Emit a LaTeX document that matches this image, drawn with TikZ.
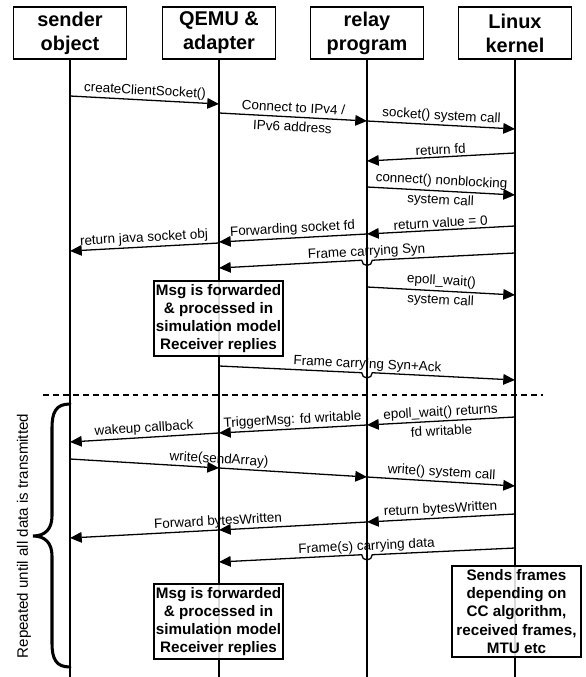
\documentclass[tikz,border=0pt]{standalone}
\usepackage{fontspec}
\setmainfont{Liberation Sans}
\usetikzlibrary{arrows.meta,calc}
\begin{document}
\begin{tikzpicture}[x=0.03cm, y=-0.03cm,
head/.style={draw, line width=1.5pt, minimum width=3.39cm, minimum height=1.56cm, inner sep=0pt, align=center, font=\bfseries\fontsize{17}{20.4}\selectfont},
life/.style={line width=1.5pt},
msg/.style={line width=1.1pt, -{Triangle[length=10pt, width=9pt]}},
lbl/.style={inner sep=1.5pt, align=center, font=\fontsize{11.5}{14}\selectfont},
twolbl/.style={inner sep=1.5pt, align=center, font=\fontsize{11.5}{16.5}\selectfont},
note/.style={draw, line width=0.9pt, fill=white, fill opacity=0.85, text opacity=1, inner sep=0pt, align=center, minimum width=3.87cm, font=\bfseries\fontsize{13}{15.6}\selectfont},
sep/.style={line width=1pt, dash pattern=on 5pt off 3.5pt},
bracket/.style={line width=2.6pt, line cap=round}]
\useasboundingbox (0,0) rectangle (585,677);
\node[head] (sender) at (70,33) {sender\\object};
\node[head] (qemu) at (219,33) {QEMU \&\\adapter};
\node[head] (relay) at (367,33) {relay\\program};
\node[head] (kernel) at (515,33) {Linux\\kernel};
\coordinate (senderend) at (70,677);
\coordinate (qemuend) at (219,677);
\coordinate (relayend) at (367,677);
\coordinate (kernelend) at (515,677);
\draw[life] (sender) -- (senderend);
\draw[life] (qemu) -- (qemuend);
\draw[life] (relay) -- (relayend);
\draw[life] (kernel) -- (kernelend);
\draw[msg] (sender |- 0,96) -- (qemu |- 0,104) node[lbl, midway, above, sloped] {createClientSocket()};
\draw[msg] (qemu |- 0,113) -- (relay |- 0,121) node[twolbl, midway, sloped] {Connect to IPv4 /\\IPv6 address};
\draw[msg] (relay |- 0,121) -- (kernel |- 0,129) node[lbl, midway, above, sloped] {socket() system call};
\draw[msg] (kernel |- 0,153) -- (relay |- 0,161) node[lbl, midway, above, sloped] {return fd};
\draw[msg] (relay |- 0,187) -- (kernel |- 0,195) node[twolbl, midway, sloped] {connect() nonblocking\\system call};
\draw[msg] (kernel |- 0,226) -- (relay |- 0,234) node[lbl, midway, above, sloped] {return value = 0};
\draw[msg] (relay |- 0,234) -- (qemu |- 0,242) node[lbl, midway, above, sloped] {Forwarding socket fd};
\draw[msg] (qemu |- 0,243) -- (sender |- 0,251) node[lbl, midway, above, sloped] {return java socket obj};
\coordinate (syn1) at (kernel |- 0,253);
\coordinate (syn2) at (qemu |- 0,268);
\coordinate (synj) at (intersection of syn1--syn2 and relay--relayend);
\draw[msg] (syn1) -- ($(synj)!4.5pt!(syn1)$) arc[start angle=0, end angle=-180, radius=4.5pt] -- (syn2);
\path (syn1) -- (syn2) node[lbl, midway, above, sloped] {Frame carrying Syn};
\draw[msg] (relay |- 0,287) -- (kernel |- 0,295) node[twolbl, midway, sloped] {epoll\_wait()\\system call};
\node[note, minimum height=2.25cm] (fwd1) at (218.5,318.5) {Msg is forwarded\\\& processed in\\simulation model\\Receiver replies};
\coordinate (ack1) at (qemu |- 0,366);
\coordinate (ack2) at (kernel |- 0,380);
\coordinate (ackj) at (intersection of ack1--ack2 and relay--relayend);
\draw[msg] (ack1) -- ($(ackj)!4.5pt!(ack1)$) arc[start angle=180, end angle=360, radius=4.5pt] -- (ack2);
\path (ack1) -- (ack2) node[lbl, midway, above, sloped] {Frame carrying Syn+Ack};
\draw[sep] (43,395) -- (543,395);
\draw[msg] (kernel |- 0,417) -- (relay |- 0,425) node[twolbl, midway, sloped] {epoll\_wait() returns\\fd writable};
\draw[msg] (relay |- 0,425) -- (qemu |- 0,433) node[lbl, midway, above, sloped] {TriggerMsg: fd writable};
\draw[msg] (qemu |- 0,433) -- (sender |- 0,442) node[lbl, midway, above, sloped] {wakeup callback};
\draw[msg] (sender |- 0,459) -- (qemu |- 0,468);
\draw[msg] (qemu |- 0,468) -- (relay |- 0,477);
\path (sender |- 0,459) -- (relay |- 0,477) node[lbl, midway, above, sloped] {write(sendArray)};
\draw[msg] (relay |- 0,477) -- (kernel |- 0,486) node[lbl, midway, above, sloped] {write() system call};
\draw[msg] (kernel |- 0,514) -- (relay |- 0,522) node[lbl, midway, above, sloped] {return bytesWritten};
\draw[msg] (relay |- 0,522) -- (qemu |- 0,530);
\draw[msg] (qemu |- 0,530) -- (sender |- 0,538);
\path (relay |- 0,522) -- (sender |- 0,538) node[lbl, midway, above, sloped] {Forward bytesWritten};
\coordinate (dat1) at (kernel |- 0,548);
\coordinate (dat2) at (qemu |- 0,562);
\coordinate (datj) at (intersection of dat1--dat2 and relay--relayend);
\draw[msg] (dat1) -- ($(datj)!4.5pt!(dat1)$) arc[start angle=0, end angle=-180, radius=4.5pt] -- (dat2);
\path (dat1) -- (dat2) node[lbl, midway, above, sloped] {Frame(s) carrying data};
\node[note, minimum height=2.25cm] (fwd2) at (218.5,621.5) {Msg is forwarded\\\& processed in\\simulation model\\Receiver replies};
\node[note, minimum height=2.73cm] (sends) at (516.5,611.5) {Sends frames\\depending on\\CC algorithm,\\received frames,\\MTU etc};
\draw[bracket] (70,404) .. controls (56,404) and (52,412) .. (52,428) -- (52,516) .. controls (52,529) and (45,536) .. (33,536) .. controls (45,536) and (52,543) .. (52,556) -- (52,643) .. controls (52,659) and (56,667) .. (70,667);
\node[lbl, rotate=90, font=\fontsize{12.9}{15}\selectfont] (repeat) at (24,536) {Repeated until all data is transmitted};
\end{tikzpicture}
\end{document}
